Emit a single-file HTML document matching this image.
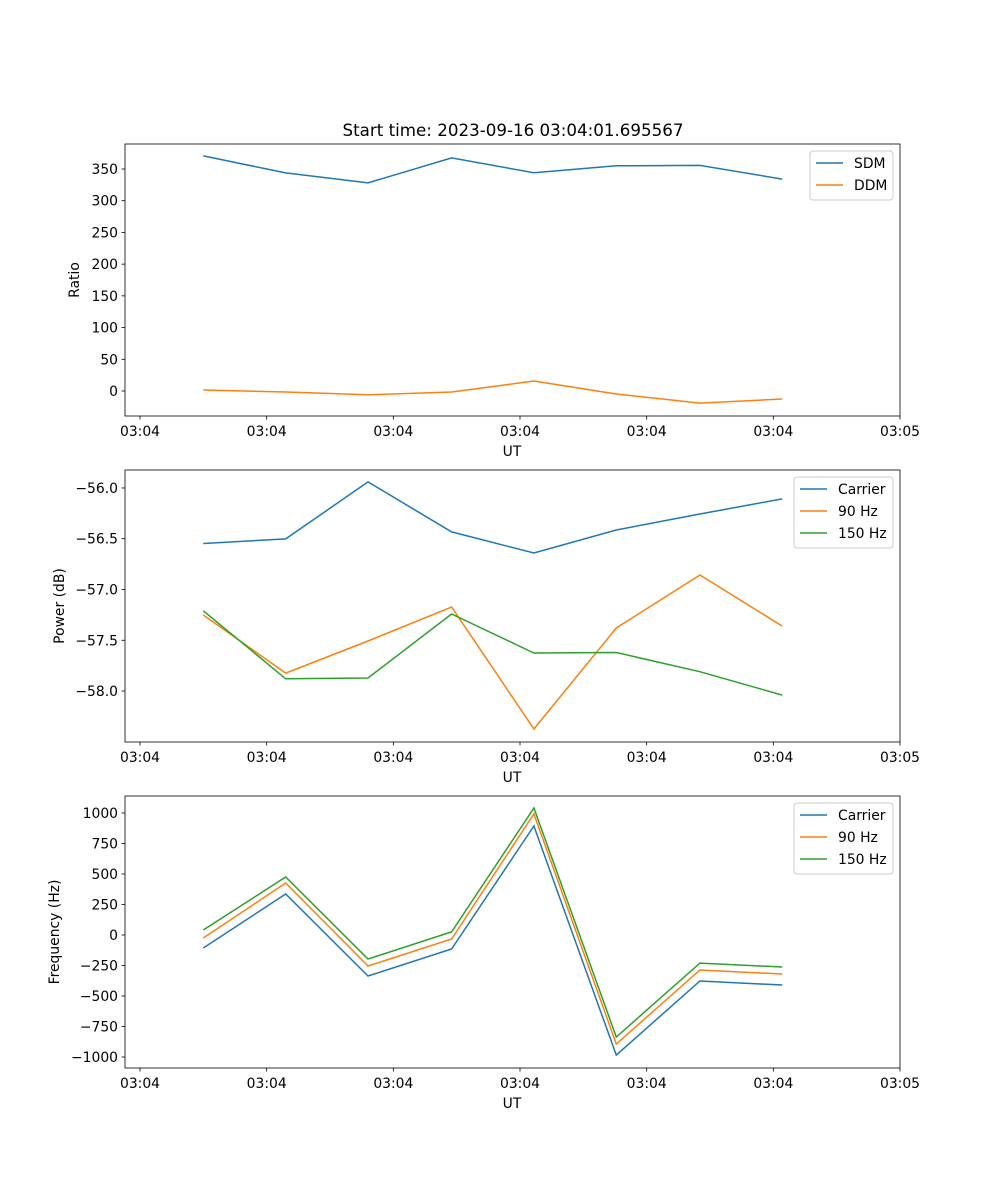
<!DOCTYPE html>
<html><head><meta charset="utf-8"><style>
html,body{margin:0;padding:0;background:#fff;}
svg{display:block;font-family:"DejaVu Sans","Liberation Sans",sans-serif;}
</style></head><body>
<svg id="fig" width="1000" height="1200" viewBox="0 0 1000 1200" xmlns="http://www.w3.org/2000/svg">
<rect width="1000" height="1200" fill="#fff"/>
<text x="513" y="136" text-anchor="middle" font-size="16.7">Start time: 2023-09-16 03:04:01.695567</text>
</svg>
<script>
const xVals=[0.5,1.15,1.80,2.46,3.11,3.76,4.42,5.07];
const xTickVals=[0,1,2,3,4,5,6];
const xTickLabels=["03:04","03:04","03:04","03:04","03:04","03:04","03:05"];
const sdm=[370.7,343.8,328,367.5,344,355,355.7,334];
const ddm=[1.6,-1.5,-6,-1.5,15.8,-4.7,-19,-12.6];
const ratioTicks=[0,50,100,150,200,250,300,350];
const pCarrier=[-56.547,-56.502,-55.94,-56.433,-56.640,-56.414,-56.256,-56.108];
const p90=[-57.251,-57.823,-57.507,-57.172,-58.374,-57.379,-56.857,-57.36];
const p150=[-57.21,-57.88,-57.872,-57.241,-57.625,-57.62,-57.81,-58.04];
const powerTicks=[-58.0,-57.5,-57.0,-56.5,-56.0];
const fCarrier=[-107,336,-336,-115,893,-984,-377,-410];
const f90=[-25,426,-254,-33,992,-893,-287,-320];
const f150=[41,475,-197,25,1041,-836,-230,-262];
const freqTicks=[-1000,-750,-500,-250,0,250,500,750,1000];

const NS="http://www.w3.org/2000/svg";
const svg=document.getElementById('fig');
function el(tag,attrs,parent){const e=document.createElementNS(NS,tag);for(const k in attrs)e.setAttribute(k,attrs[k]);(parent||svg).appendChild(e);return e;}
const L=125,R=900;
const xDom=[-0.1185,6];
function xs(v){return L+(v-xDom[0])/(xDom[1]-xDom[0])*(R-L);}
const FS=13.9;

function panel(name,top,bot,yDom,yTicks,fmt,ylabel,ylabelX,series,legend){
  const g=el('g',{});
  
  
  const ys=v=>bot-(v-yDom[0])/(yDom[1]-yDom[0])*(bot-top);
  series.forEach(s=>{
    const pts=s.vals.map((v,i)=>xs(xVals[i]).toFixed(1)+','+ys(v).toFixed(1)).join(' ');
    const p=el('polyline',{points:pts,fill:'none',stroke:s.color,'stroke-width':1.5},g);
    
    
  });
  const frame=el('rect',{x:L,y:top,width:R-L,height:bot-top,fill:'none',stroke:'#000','stroke-width':0.8},g);
  
  
  xTickVals.forEach((v,i)=>{
    const x=xs(v);
    el('line',{x1:x,x2:x,y1:bot,y2:bot+3.5,stroke:'#000','stroke-width':0.8},g);
    const t=el('text',{x:x,y:bot+20,'text-anchor':'middle','font-size':FS},g);
    t.textContent=xTickLabels[i];
    
    
  });
  yTicks.forEach(v=>{
    const y=ys(v);
    el('line',{x1:L-3.5,x2:L,y1:y,y2:y,stroke:'#000','stroke-width':0.8},g);
    const t=el('text',{x:L-7,y:y+5,'text-anchor':'end','font-size':FS},g);
    t.textContent=fmt(v);
    
    
  });
  const xl=el('text',{x:512,y:bot+40,'text-anchor':'middle','font-size':FS},g);
  xl.textContent='UT';
  
  
  const cy=(top+bot)/2;
  const yl=el('text',{x:ylabelX,y:cy,'text-anchor':'middle','font-size':FS,transform:`rotate(-90 ${ylabelX} ${cy})`},g);
  yl.textContent=ylabel;
  
  
  const lg=el('g',{},g);
  
  
  el('rect',{x:legend.x,y:top+7,width:R-7-legend.x,height:series.length*22+5,rx:3,fill:'#fff',stroke:'#ccc','stroke-width':1},lg);
  series.forEach((s,i)=>{
    const y=top+19+i*22;
    el('line',{x1:legend.x+6,x2:legend.x+33,y1:y,y2:y,stroke:s.color,'stroke-width':1.5},lg);
    const t=el('text',{x:legend.x+44,y:y+5,'font-size':FS},lg);
    t.textContent=s.label;
    
    
  });
}
const B='#1f77b4',O='#ff7f0e',G='#2ca02c';
panel('ratio',144,416,[-39.4,389.4],ratioTicks,v=>String(v),'Ratio',79,
  [{key:'sdm',label:'SDM',vals:sdm,color:B},{key:'ddm',label:'DDM',vals:ddm,color:O}],{x:810});
panel('power',470,742,[-58.502,-55.823],powerTicks,v=>v.toFixed(1).replace('-','\u2212'),'Power (dB)',64,
  [{key:'carrier',label:'Carrier',vals:pCarrier,color:B},{key:'90hz',label:'90 Hz',vals:p90,color:O},{key:'150hz',label:'150 Hz',vals:p150,color:G}],{x:794});
panel('frequency',796,1068,[-1090,1139],freqTicks,v=>String(v).replace('-','\u2212'),'Frequency (Hz)',59,
  [{key:'carrier',label:'Carrier',vals:fCarrier,color:B},{key:'90hz',label:'90 Hz',vals:f90,color:O},{key:'150hz',label:'150 Hz',vals:f150,color:G}],{x:794});
</script>
</body></html>
